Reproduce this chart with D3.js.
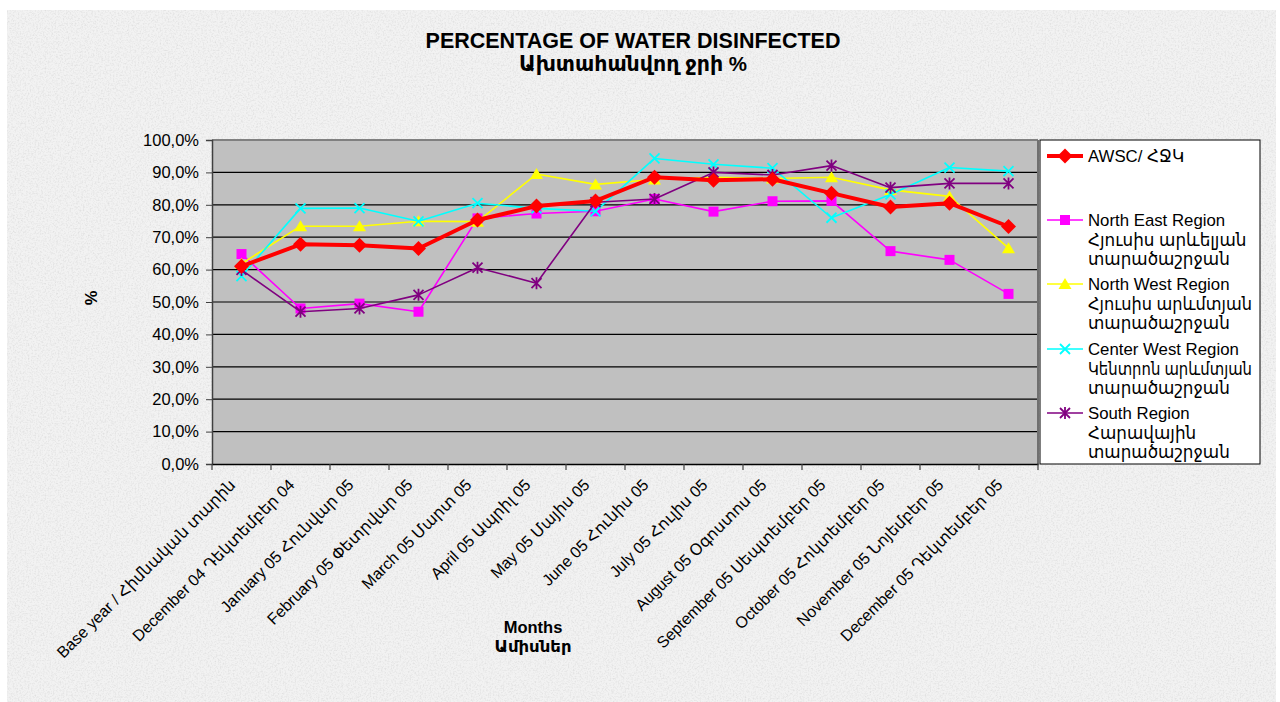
<!DOCTYPE html>
<html><head><meta charset="utf-8">
<script src="https://cdn.jsdelivr.net/npm/d3@7"></script>
<style>
html,body{margin:0;padding:0;background:#fff;}
text{font-family:"Liberation Sans",Arial,"DejaVu Sans",sans-serif;fill:#000;}
</style></head>
<body>
<svg id="chart" width="1280" height="702"></svg>
<script>
const categories = [
  "Base year / Հիմնական տարին",
  "December 04 Դեկտեմբեր 04",
  "January 05 Հունվար 05",
  "February 05 Փետրվար 05",
  "March 05 Մարտ 05",
  "April 05 Ապրիլ 05",
  "May 05 Մայիս 05",
  "June 05 Հունիս 05",
  "July 05 Հուլիս 05",
  "August 05 Օգոստոս 05",
  "September 05 Սեպտեմբեր 05",
  "October 05 Հոկտեմբեր 05",
  "November 05 Նոյեմբեր 05",
  "December 05 Դեկտեմբեր 05"
];
const awsc      = [61.0, 67.8, 67.5, 66.5, 75.3, 79.6, 81.2, 88.5, 87.6, 87.9, 83.6, 79.3, 80.5, 73.3];
const northEast = [64.8, 48.0, 49.5, 47.0, 75.8, 77.3, 78.0, 81.8, 77.9, 81.1, 81.2, 65.7, 63.0, 52.5];
const northWest = [61.8, 73.4, 73.4, 74.9, 74.8, 89.5, 86.3, 87.8, 88.5, 88.1, 88.5, 84.6, 82.6, 66.6];
const centerWest= [58.0, 78.9, 79.0, 74.9, 80.5, 78.9, 78.0, 94.3, 92.5, 91.3, 76.0, 83.2, 91.5, 90.4];
const south     = [59.9, 47.0, 48.0, 52.2, 60.6, 55.8, 80.8, 81.8, 90.0, 89.2, 92.1, 85.3, 86.6, 86.6];
const yTicks = [0,10,20,30,40,50,60,70,80,90,100];
const seriesNames = [
  ["AWSC/ ՀՋԿ"],
  ["North East Region","Հյուսիս արևելյան","տարածաշրջան"],
  ["North West Region","Հյուսիս արևմտյան","տարածաշրջան"],
  ["Center West Region","Կենտրոն արևմտյան","տարածաշրջան"],
  ["South Region","Հարավային","տարածաշրջան"]
];
const titleLines = ["PERCENTAGE OF WATER DISINFECTED","Ախտահանվող ջրի %"];
const xTitleLines = ["Months","Ամիսներ"];
const yTitle = "%";

const series = [
  {name: seriesNames[0], values: awsc, color:"#ff0000", width:4, marker:"diamond"},
  {name: seriesNames[1], values: northEast, color:"#ff00ff", width:1.6, marker:"square"},
  {name: seriesNames[2], values: northWest, color:"#ffff00", width:1.6, marker:"triangle"},
  {name: seriesNames[3], values: centerWest, color:"#00ffff", width:1.6, marker:"cross"},
  {name: seriesNames[4], values: south, color:"#800080", width:1.6, marker:"star"}
];

const svg = d3.select("#chart");
const defs = svg.append("defs");
const f = defs.append("filter").attr("id","grain").attr("x",0).attr("y",0).attr("width","100%").attr("height","100%");
f.append("feTurbulence").attr("type","fractalNoise").attr("baseFrequency",0.6).attr("numOctaves",3).attr("seed",4).attr("result","n");
f.append("feColorMatrix").attr("in","n").attr("type","matrix")
  .attr("values","0 0 0 0 0.6  0 0 0 0 0.6  0 0 0 0 0.6  0 0 0 -2.2 1.25");

// background
svg.append("rect").attr("x",7).attr("y",10).attr("width",1269).attr("height",692).attr("fill","#f2f2f2");
svg.append("rect").attr("x",7).attr("y",10).attr("width",1269).attr("height",692).attr("filter","url(#grain)").attr("opacity",0.45);

const plot = {l:212, r:1038, t:140, b:464};
const x = d3.scaleBand().domain(categories).range([plot.l, plot.r]);
const y = d3.scaleLinear().domain([0,100]).range([plot.b, plot.t]);

svg.append("rect").attr("x",plot.l).attr("y",plot.t).attr("width",plot.r-plot.l).attr("height",plot.b-plot.t).attr("fill","#c0c0c0");

// gridlines
svg.append("g").selectAll("line").data(yTicks.filter(d=>d>0)).join("line")
  .attr("x1",plot.l).attr("x2",plot.r).attr("y1",d=>y(d)).attr("y2",d=>y(d))
  .attr("stroke",d=>d===100?"#808080":"#000").attr("stroke-width",d=>d===100?2:1.2);
svg.append("line").attr("x1",plot.r).attr("x2",plot.r).attr("y1",plot.t).attr("y2",plot.b).attr("stroke","#707070").attr("stroke-width",2);

// y axis
const yAxis = d3.axisLeft(y).tickValues(yTicks).tickSize(6).tickPadding(7)
  .tickFormat(d=>d.toFixed(1).replace(".",",")+"%");
const gy = svg.append("g").attr("transform",`translate(${plot.l},0)`).call(yAxis);
gy.select(".domain").attr("stroke","#404040").attr("stroke-width",1.5);
gy.selectAll(".tick line").attr("stroke","#404040");
gy.selectAll("text").attr("font-size",16.5).attr("fill","#000");

// x axis
const xAxis = d3.axisBottom(x).tickSize(0).tickFormat("");
const gx = svg.append("g").attr("transform",`translate(0,${plot.b})`).call(xAxis);
gx.select(".domain").attr("stroke","#000").attr("stroke-width",1.5);
const bounds = categories.map(c=>x(c)).concat([plot.r]);
gx.selectAll(".btick").data(bounds).join("line").attr("class","btick")
  .attr("x1",d=>d).attr("x2",d=>d).attr("y1",0).attr("y2",6).attr("stroke","#404040").attr("stroke-width",1.2);
gx.selectAll(".xl").data(categories).join("text").attr("class","xl")
  .attr("transform",d=>`translate(${x(d)+x.bandwidth()/2-5},${22}) rotate(-45)`)
  .attr("text-anchor","end").attr("font-size",16).text(d=>d);

// lines & markers
const line = d3.line().x((d,i)=>x(categories[i])+x.bandwidth()/2).y(d=>y(d));
function drawMarker(g, type, color, cx, cy){
  if(type==="diamond"){
    g.append("path").attr("d",`M${cx},${cy-7.5}L${cx+7.5},${cy}L${cx},${cy+7.5}L${cx-7.5},${cy}Z`).attr("fill",color);
  } else if(type==="square"){
    g.append("rect").attr("x",cx-5).attr("y",cy-5).attr("width",10).attr("height",10).attr("fill",color);
  } else if(type==="triangle"){
    g.append("path").attr("d",`M${cx},${cy-6}L${cx+6.5},${cy+5}L${cx-6.5},${cy+5}Z`).attr("fill",color);
  } else if(type==="cross"){
    g.append("path").attr("d",`M${cx-5},${cy-5}L${cx+5},${cy+5}M${cx+5},${cy-5}L${cx-5},${cy+5}`).attr("stroke",color).attr("stroke-width",1.8);
  } else if(type==="star"){
    g.append("path").attr("d",`M${cx-5},${cy-5}L${cx+5},${cy+5}M${cx+5},${cy-5}L${cx-5},${cy+5}M${cx},${cy-6}L${cx},${cy+6}`).attr("stroke",color).attr("stroke-width",1.8);
  }
}
const order = [1,2,3,4,0];
order.forEach(k=>{
  const s = series[k];
  const g = svg.append("g");
  g.append("path").attr("d",line(s.values)).attr("fill","none").attr("stroke",s.color).attr("stroke-width",s.width).attr("stroke-linejoin","round");
  s.values.forEach((v,i)=>drawMarker(g, s.marker, s.color, x(categories[i])+x.bandwidth()/2, y(v)));
});

// legend
const leg = {x:1040, y:140, w:220, h:324};
svg.append("rect").attr("x",leg.x).attr("y",leg.y).attr("width",leg.w).attr("height",leg.h).attr("fill","#fff").attr("stroke","#000").attr("stroke-width",1);
const legY = [156, 220, 284, 349, 413];
const maxTextW = leg.w - 56;
series.forEach((s,i)=>{
  const g = svg.append("g");
  const ly = legY[i];
  g.append("line").attr("x1",leg.x+7).attr("x2",leg.x+43).attr("y1",ly).attr("y2",ly).attr("stroke",s.color).attr("stroke-width",s.width===4?4:1.6);
  drawMarker(g, s.marker, s.color, leg.x+25, ly);
  s.name.forEach((t,j)=>{
    const tx = g.append("text").attr("x",leg.x+48).attr("y",ly+6+j*19.6).attr("font-size",16.8).text(t);
    const w = tx.node().getComputedTextLength();
    if(w > maxTextW){ tx.attr("textLength",maxTextW).attr("lengthAdjust","spacingAndGlyphs"); }
  });
});

// titles
titleLines.forEach((t,i)=>{
  svg.append("text").attr("x",633).attr("y",48+i*23).attr("text-anchor","middle").attr("font-weight","bold").attr("font-size",i===0?21.5:20.5).text(t);
});
xTitleLines.forEach((t,i)=>{
  svg.append("text").attr("x",533).attr("y",633+i*19).attr("text-anchor","middle").attr("font-weight","bold").attr("font-size",16.5).text(t);
});
svg.append("text").attr("transform","translate(97,298) rotate(-90)").attr("text-anchor","middle").attr("font-weight","bold").attr("font-size",16.5).text(yTitle);
</script>
</body></html>
